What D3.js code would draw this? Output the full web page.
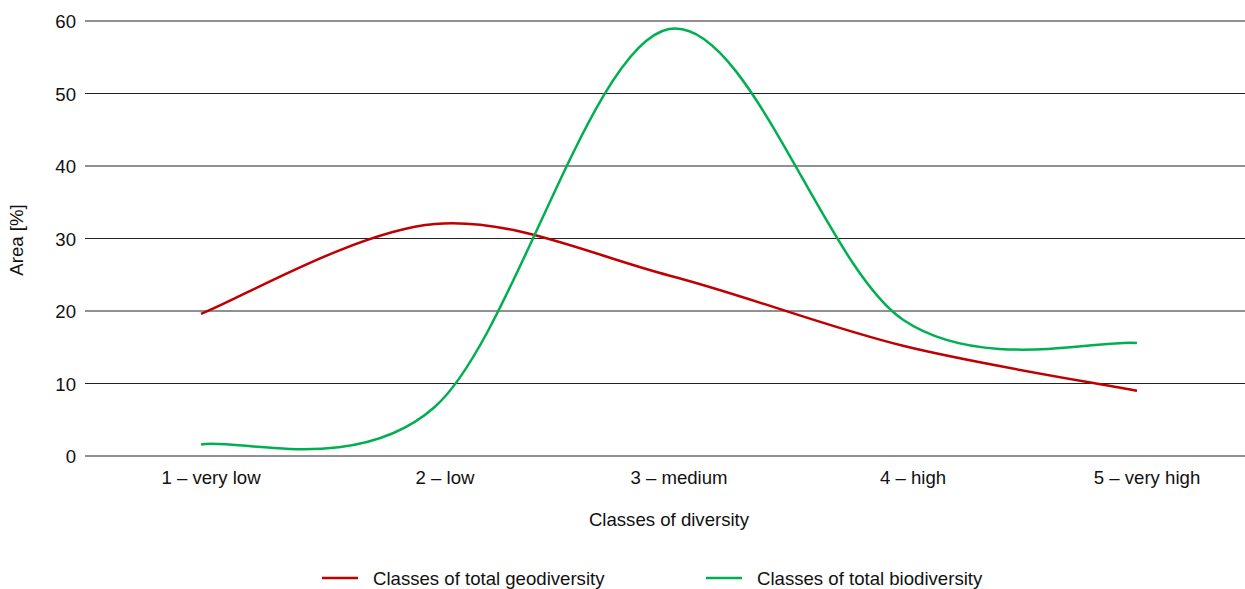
<!DOCTYPE html>
<html>
<head>
<meta charset="utf-8">
<script src="https://cdn.jsdelivr.net/npm/d3@7"></script>
<style>
  html, body { margin: 0; padding: 0; background: #fff; }
  svg { display: block; font-family: "Liberation Sans", Arial, sans-serif; }
</style>
</head>
<body>
<svg id="chart" width="1245" height="589"></svg>
<script>
const categories = ["1 – very low", "2 – low", "3 – medium", "4 – high", "5 – very high"];
const geodiversity = [19.6, 32.0, 24.9, 15.2, 9.0];
const biodiversity = [1.6, 6.8, 58.9, 18.8, 15.6];
const yTicks = [0, 10, 20, 30, 40, 50, 60];
const seriesNames = ["Classes of total geodiversity", "Classes of total biodiversity"];
const seriesColors = ["#C00000", "#00B050"];

(function () {
// Excel-style smoothed line: Catmull-Rom Bezier with duplicated end points
function ExcelCurve(context) { this._context = context; }
ExcelCurve.prototype = {
  areaStart() { this._line = 0; },
  areaEnd() { this._line = NaN; },
  lineStart() { this._pts = []; },
  point(px, py) { this._pts.push([+px, +py]); },
  lineEnd() {
    const p = this._pts, n = p.length, c = this._context;
    if (!n) return;
    c.moveTo(p[0][0], p[0][1]);
    for (let i = 0; i < n - 1; i++) {
      const a = p[Math.max(i - 1, 0)], b = p[i], d = p[i + 1], e = p[Math.min(i + 2, n - 1)];
      c.bezierCurveTo(
        b[0] + (d[0] - a[0]) / 6, b[1] + (d[1] - a[1]) / 6,
        d[0] - (e[0] - b[0]) / 6, d[1] - (e[1] - b[1]) / 6,
        d[0], d[1]);
    }
  }
};
const excelCurve = ctx => new ExcelCurve(ctx);

const svg = d3.select("#chart");
const mLeft = 84, mRight = 1254, mTop = 21, mBottom = 456;
const fs = 18.6;

const x = d3.scalePoint().domain(categories).range([mLeft, mRight]).padding(0.5);
const y = d3.scaleLinear().domain([0, 60]).range([mBottom, mTop]);

// gridlines
svg.append("g").selectAll("line").data(yTicks).join("line")
  .attr("x1", 85).attr("x2", 1245)
  .attr("y1", d => y(d)).attr("y2", d => y(d))
  .attr("stroke", "#222").attr("stroke-width", 1);

// y tick labels
svg.append("g").selectAll("text").data(yTicks).join("text")
  .attr("x", 76).attr("y", d => y(d)).attr("dy", "0.4em")
  .attr("text-anchor", "end").attr("font-size", fs).attr("fill", "#111")
  .text(d => d);

// x tick labels
svg.append("g").selectAll("text").data(categories).join("text")
  .attr("x", d => x(d) + 10).attr("y", 484)
  .attr("text-anchor", "middle").attr("font-size", fs).attr("fill", "#111")
  .text(d => d);

// axis titles
svg.append("text").attr("x", 669).attr("y", 526).attr("text-anchor", "middle")
  .attr("font-size", fs).attr("fill", "#111").text("Classes of diversity");
svg.append("text").attr("transform", "translate(23,240) rotate(-90)")
  .attr("text-anchor", "middle").attr("font-size", fs).attr("fill", "#111").text("Area [%]");

// lines
const line = d3.line().x((d, i) => x(categories[i])).y(d => y(d)).curve(excelCurve);
[geodiversity, biodiversity].forEach((s, k) => {
  svg.append("path").datum(s).attr("d", line)
    .attr("fill", "none").attr("stroke", seriesColors[k]).attr("stroke-width", 2.5)
    .attr("stroke-linecap", "butt");
});

// legend
const legendX = [322, 706];
seriesNames.forEach((n, k) => {
  svg.append("line").attr("x1", legendX[k]).attr("x2", legendX[k] + 36)
    .attr("y1", 578).attr("y2", 578).attr("stroke", seriesColors[k]).attr("stroke-width", 2.5);
  svg.append("text").attr("x", legendX[k] + 51).attr("y", 578).attr("dy", "0.35em")
    .attr("font-size", fs).attr("fill", "#111").text(n);
});
})();
</script>
</body>
</html>
